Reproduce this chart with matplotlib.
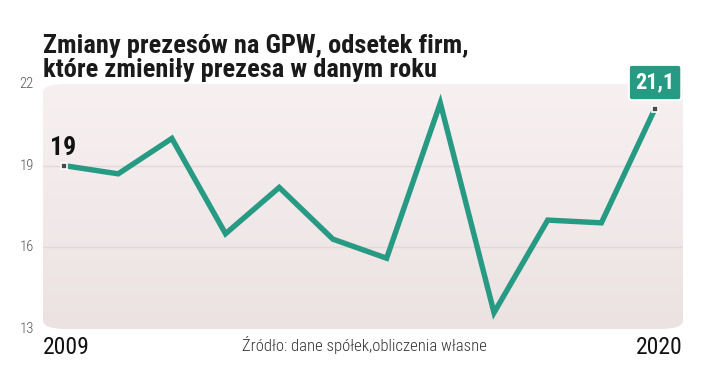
import matplotlib
matplotlib.use('Agg')
import matplotlib.pyplot as plt
import numpy as np
from matplotlib.patches import FancyBboxPatch

years = [2009, 2010, 2011, 2012, 2013, 2014, 2015, 2016, 2017, 2018, 2019, 2020]
share = [19.0, 18.7, 20.0, 16.5, 18.2, 16.3, 15.6, 21.3, 13.6, 17.0, 16.9, 21.1]
yticks = [13, 16, 19, 22]

title = 'Zmiany prezesów na GPW, odsetek firm,\nktóre zmieniły prezesa w danym roku'
source = 'Źródło: dane spółek,obliczenia własne'

font = ['Roboto Condensed', 'DejaVu Sans']
green = '#279a83'

fig = plt.figure(figsize=(7.2, 3.81), dpi=100)
ax = fig.add_axes([43/720, 1 - 329/381, (683-43)/720, (329-84)/381])
x0, x1 = 2008.6, 2020.52
ax.set_xlim(x0, x1)
ax.set_ylim(13, 22)

# gradient panel with rounded corners
grad = np.linspace(0, 1, 256).reshape(-1, 1)
cmap = matplotlib.colors.LinearSegmentedColormap.from_list('bg', ['#ece2e2', '#f7f0f1'])
im = ax.imshow(grad, extent=(x0, x1, 13, 22), origin='lower', aspect='auto', cmap=cmap, zorder=0)
box = FancyBboxPatch((0, 0), 1, 1, boxstyle='round,pad=0,rounding_size=0.035',
                     transform=ax.transAxes, facecolor='none', edgecolor='none')
ax.add_patch(box)
im.set_clip_path(box)

for y in [16, 19]:
    ax.axhline(y, color='#e3d7d7', lw=1, zorder=1)

ax.plot(years, share, color=green, lw=3.9, solid_joinstyle='miter', zorder=3)
ax.plot([years[0], years[-1]], [share[0], share[-1]], ls='none', marker='s', ms=5,
        mfc='#4a4a4a', mec='white', mew=1.2, zorder=4)

ax.text(years[0] - 0.27, share[0] + 0.22, '19', fontsize=18.5, fontweight='bold',
        family=font, color='#111111', ha='left', va='bottom', zorder=5)
ax.text(years[-1], share[-1] + 0.55, '21,1', fontsize=16, fontweight='bold', family=font,
        color='white', ha='center', va='bottom', zorder=5,
        bbox=dict(boxstyle='round,pad=0.3,rounding_size=0.15', fc=green, ec='white', lw=1.5),
        clip_on=False)

for s in ax.spines.values():
    s.set_visible(False)
ax.set_xticks([])
ax.set_yticks([])

for t in yticks:
    ax.text(x0 - 0.17, t, str(t), fontsize=10.5, family=font, fontweight='light',
            color='#555555', ha='right', va='center', clip_on=False)

fig.text(43/720, 1 - 34/381, title, fontsize=19, fontweight='bold', family=font,
         color='#1a1a1a', ha='left', va='top', linespacing=0.98)
fig.text(43/720, 1 - 347/381, '2009', fontsize=17, family=font, color='#111111',
         ha='left', va='center')
fig.text(683/720, 1 - 347/381, '2020', fontsize=17, family=font, color='#111111',
         ha='right', va='center')
fig.text(364/720, 1 - 345/381, source, fontsize=12, family=font, fontweight='light',
         color='#333333', ha='center', va='center')

fig.savefig('out.png', dpi=100)
